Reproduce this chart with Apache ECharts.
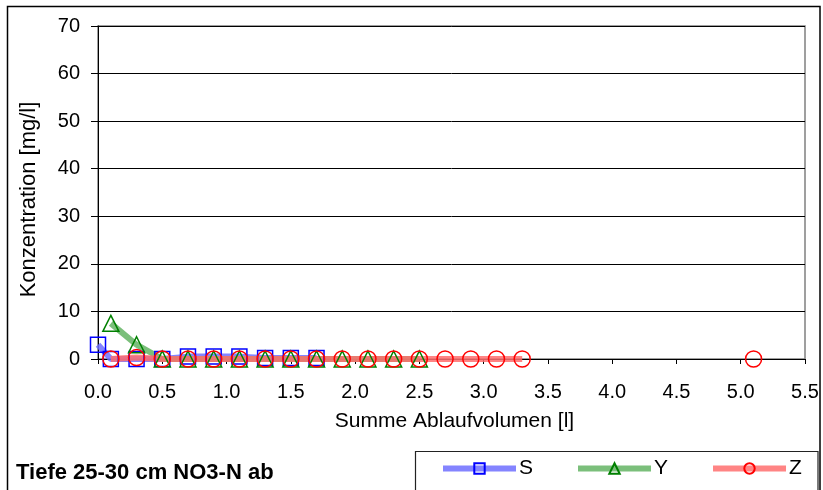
<!DOCTYPE html>
<html><head><meta charset="utf-8">
<script src="https://cdn.jsdelivr.net/npm/echarts@6/dist/echarts.min.js"></script>
<style>html,body{margin:0;padding:0;background:#fff}#c{width:823px;height:490px}</style>
</head><body><div id="c"></div>
<script>
const sX = [0.0, 0.1, 0.3, 0.5, 0.7, 0.9, 1.1, 1.3, 1.5, 1.7];
const sY = [3.0, 0.0, 0.0, 0.0, 0.5, 0.5, 0.5, 0.2, 0.2, 0.2];
const yX = [0.1, 0.3, 0.5, 0.7, 0.9, 1.1, 1.3, 1.5, 1.7, 1.9, 2.1, 2.3, 2.5];
const yY = [7.5, 3.0, 0.0, 0.0, 0.0, 0.0, 0.0, 0.0, 0.0, 0.0, 0.0, 0.0, 0.0];
const zX = [0.1, 0.3, 0.5, 0.7, 0.9, 1.1, 1.3, 1.5, 1.7, 1.9, 2.1, 2.3, 2.5, 2.7, 2.9, 3.1, 3.3, 4.2, 5.1];
const zY = [0.0, 0.3, 0.0, 0.0, 0.0, 0.0, 0.0, 0.0, 0.0, 0.0, 0.0, 0.0, 0.0, 0.0, 0.0, 0.0, 0.0, null, 0.0];
const xTicks = [0, 0.5, 1, 1.5, 2, 2.5, 3, 3.5, 4, 4.5, 5, 5.5];
const yTicks = [0, 10, 20, 30, 40, 50, 60, 70];

const pairs = (xs, ys) => xs.map((x, i) => [x, ys[i]]);
const font = 'Liberation Sans, Arial, sans-serif';
const chart = echarts.init(document.getElementById('c'));
function mk(name, xs, ys, sym, size, stroke, line) {
  return {
    name, type: 'line', data: pairs(xs, ys), symbol: sym, symbolSize: size,
    connectNulls: false, showAllSymbol: true,
    lineStyle: { color: line, width: 6 },
    itemStyle: { color: 'rgba(255,255,255,0)', borderColor: stroke, borderWidth: 1.5 },
    emphasis: { disabled: true }, animation: false
  };
}
chart.setOption({
  animation: false,
  title: { text: 'Tiefe 25-30 cm NO3-N ab', left: 11, top: 457,
    textStyle: { fontFamily: font, fontSize: 22, fontWeight: 'bold', color: '#000' } },
  legend: {
    left: 440, top: 458, padding: 0, width: 380, itemGap: 42, itemWidth: 73, itemHeight: 13,
    data: ['S', 'Y', 'Z'],
    lineStyle: { width: 6 },
    textStyle: { fontFamily: font, fontSize: 21, color: '#000', padding: [0, 0, 0, -2] }
  },
  graphic: [
    { type: 'rect', shape: { x: 7.5, y: 6.5, width: 812.5, height: 490 }, style: { fill: 'none', stroke: '#000', lineWidth: 1.5 }, silent: true },
    { type: 'rect', shape: { x: 415.5, y: 451.5, width: 402.5, height: 60 }, style: { fill: 'none', stroke: '#222', lineWidth: 1.2 }, silent: true }
  ],
  grid: { left: 98, right: 18, top: 26, bottom: 131, show: true, borderColor: '#808080', borderWidth: 1.5 },
  xAxis: {
    type: 'value', min: 0, max: 5.5, interval: 0.5,
    name: 'Summe Ablaufvolumen [l]', nameLocation: 'middle', nameGap: 52,
    nameTextStyle: { fontFamily: font, fontSize: 21, color: '#000', padding: [0, 0, 0, 6] },
    axisLine: { onZero: false, lineStyle: { color: '#000' } },
    axisTick: { show: true, length: 5, inside: false, lineStyle: { color: '#000' } },
    axisLabel: { fontFamily: font, fontSize: 20, color: '#000', margin: 23,
      formatter: v => xTicks.includes(+v.toFixed(1)) ? v.toFixed(1) : '' },
    splitLine: { show: false }
  },
  yAxis: {
    type: 'value', min: 0, max: 70, interval: 10,
    name: 'Konzentration [mg/l]', nameLocation: 'middle', nameGap: 58,
    nameTextStyle: { fontFamily: font, fontSize: 22, color: '#000', padding: [0, 14, 0, 0] },
    axisLine: { show: true, lineStyle: { color: '#000' } },
    axisTick: { show: true, length: 7, lineStyle: { color: '#000' } },
    axisLabel: { fontFamily: font, fontSize: 20, color: '#000', margin: 18,
      formatter: v => yTicks.includes(v) ? String(v) : '' },
    splitLine: { show: true, lineStyle: { color: '#000', width: 1 } }
  },
  series: [
    mk('S', sX, sY, 'rect', 15, '#0000ff', 'rgba(110,110,255,0.85)'),
    mk('Y', yX, yY, 'triangle', 16, '#008000', 'rgba(100,180,100,0.85)'),
    mk('Z', zX, zY, 'circle', 16, '#ff0000', 'rgba(255,110,110,0.85)')
  ]
});
</script></body></html>
